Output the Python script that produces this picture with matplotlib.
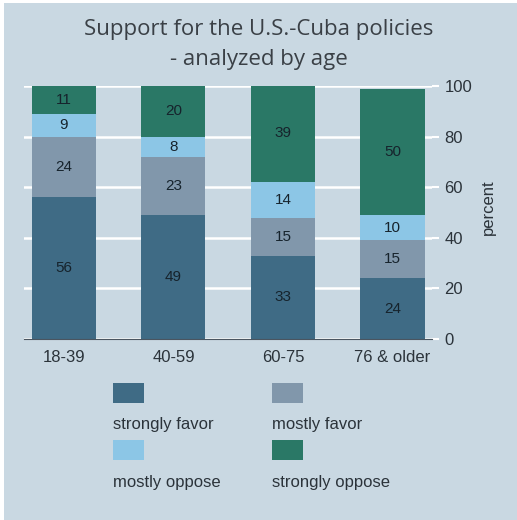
import matplotlib.pyplot as plt
from matplotlib.patches import Rectangle

plt.rcParams['font.family'] = ['Liberation Sans', 'DejaVu Sans']

# survey data
age_groups = ['18-39', '40-59', '60-75', '76 & older']
series_names = ['strongly favor', 'mostly favor', 'mostly oppose', 'strongly oppose']
strongly_favor = [56, 49, 33, 24]
mostly_favor = [24, 23, 15, 15]
mostly_oppose = [9, 8, 14, 10]
strongly_oppose = [11, 20, 39, 50]
series_values = [strongly_favor, mostly_favor, mostly_oppose, strongly_oppose]
colors = ['#3f6b85', '#8197ab', '#8cc6e6', '#2a7866']
y_ticks = [0, 20, 40, 60, 80, 100]

bg = '#c9d8e2'
text_dark = '#2b333a'

fig = plt.figure(figsize=(5.17, 5.2), dpi=100, facecolor=bg)
ax = fig.add_axes([0.0464, 0.348, 0.789, 0.4865])
ax.set_facecolor(bg)

x = list(range(len(age_groups)))
bottoms = [0] * len(age_groups)
for vals, col in zip(series_values, colors):
    bars = ax.bar(x, vals, width=0.585, bottom=bottoms, color=col, zorder=3)
    for rect, v in zip(bars, vals):
        cy = rect.get_y() + rect.get_height() / 2
        ax.text(rect.get_x() + rect.get_width() / 2, cy, str(v),
                ha='center', va='center', fontsize=11, color='#16232c', zorder=4)
    bottoms = [b + v for b, v in zip(bottoms, vals)]

ax.set_xlim(-0.365, 3.36)
ax.set_ylim(0, 100)
ax.set_yticks(y_ticks)
ax.yaxis.tick_right()
ax.tick_params(axis='y', length=5, color='white', width=1.5, labelsize=12,
               labelcolor=text_dark, pad=4)
ax.set_xticks(x)
ax.set_xticklabels(age_groups, fontsize=12, color=text_dark)
ax.tick_params(axis='x', length=0, pad=8)
ax.grid(axis='y', color='white', linewidth=1.8, zorder=1)
for s in ['top', 'left', 'right']:
    ax.spines[s].set_visible(False)
ax.spines['bottom'].set_color('#4a5560')
ax.spines['bottom'].set_zorder(5)

fig.text(0.944, 0.602, 'percent', rotation=90, ha='center', va='center',
         fontsize=12, color=text_dark)

fig.text(0.5, 0.943, 'Support for the U.S.-Cuba policies', ha='center', va='center',
         fontsize=16, color='#3a4046', family=['Open Sans', 'DejaVu Sans'])
fig.text(0.5, 0.885, '- analyzed by age', ha='center', va='center',
         fontsize=16, color='#3a4046', family=['Open Sans', 'DejaVu Sans'])

# legend: swatch above its label, two columns
col_x = [113 / 517, 272 / 517]
row_sq = [1 - 403 / 520, 1 - 460 / 520]
row_txt = [1 - 425 / 520, 1 - 483 / 520]
for i, (name, col) in enumerate(zip(series_names, colors)):
    r, c = divmod(i, 2)
    fig.add_artist(Rectangle((col_x[c], row_sq[r]), 31 / 517, 20 / 520,
                             transform=fig.transFigure, facecolor=col, edgecolor='none'))
    fig.text(col_x[c], row_txt[r], name, ha='left', va='center',
             fontsize=12, color=text_dark)

# thin white edge at top and left
fig.add_artist(Rectangle((0, 1 - 3 / 520), 1, 3 / 520, transform=fig.transFigure,
                         facecolor='white', edgecolor='none'))
fig.add_artist(Rectangle((0, 0), 4 / 517, 1, transform=fig.transFigure,
                         facecolor='white', edgecolor='none'))

fig.savefig('out.png', dpi=100, facecolor=bg)
